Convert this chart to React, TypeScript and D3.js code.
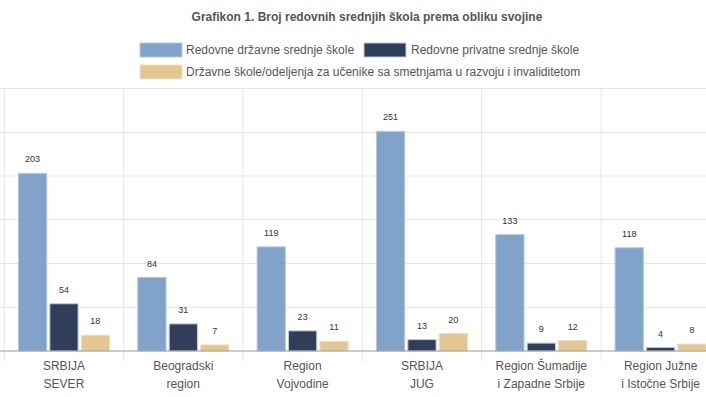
import { scaleBand, scaleLinear } from 'd3';
import React from 'react';

const categories = [
  ['SRBIJA', 'SEVER'],
  ['Beogradski', 'region'],
  ['Region', 'Vojvodine'],
  ['SRBIJA', 'JUG'],
  ['Region Šumadije', 'i Zapadne Srbije'],
  ['Region Južne', 'i Istočne Srbije'],
];
const seriesNames = [
  'Redovne državne srednje škole',
  'Redovne privatne srednje škole',
  'Državne škole/odeljenja za učenike sa smetnjama u razvoju i invaliditetom',
];
const drzavne = [203, 84, 119, 251, 133, 118];
const privatne = [54, 31, 23, 13, 9, 4];
const posebne = [18, 7, 11, 20, 12, 8];
const yTicks = [0, 50, 100, 150, 200, 250, 300];

const colors = ['#82a3c9', '#2f3f5a', '#e2c792'];
const strokes = ['#b3c8e0', '#c3cad5', '#f0e0c0'];

const W = 706;
const H = 397;

const App = () => {
  const series = [drzavne, privatne, posebne];
  const x = scaleBand<number>()
    .domain(categories.map((_, i) => i))
    .range([4.3, 720.3])
    .padding(0);
  const inner = scaleBand<number>()
    .domain([0, 1, 2])
    .range([0, x.bandwidth()])
    .paddingInner(0.1)
    .paddingOuter(0.45);
  const y = scaleLinear().domain([0, 300]).range([351, 88.5]);
  const bounds = categories.map((_, i) => x(i)!).concat([x(5)! + x.bandwidth()]);

  return (
    <svg
      width={W}
      height={H}
      style={{ position: 'absolute', left: 0, top: 0, display: 'block' }}
      fontFamily="'Liberation Sans', Arial, sans-serif"
    >
      <rect width={W} height={H} fill="#fff" />
      <text x={367} y={21} textAnchor="middle" fontSize={12} fontWeight="bold" fill="#555">
        Grafikon 1. Broj redovnih srednjih škola prema obliku svojine
      </text>

      {/* legenda */}
      <g fontSize={12} fill="#555">
        <rect x={140} y={43} width={42} height={14} fill={colors[0]} stroke={strokes[0]} />
        <text x={186} y={54}>{seriesNames[0]}</text>
        <rect x={364} y={43} width={42} height={14} fill={colors[1]} stroke={strokes[1]} />
        <text x={411} y={54}>{seriesNames[1]}</text>
        <rect x={140} y={65} width={42} height={14} fill={colors[2]} stroke={strokes[2]} />
        <text x={186} y={76}>{seriesNames[2]}</text>
      </g>

      {/* mreza */}
      {yTicks.slice(1).map((t) => (
        <line key={t} x1={0} x2={W} y1={y(t)} y2={y(t)} stroke="#e6e6e6" />
      ))}
      {bounds.map((b, i) => (
        <line key={i} x1={b} x2={b} y1={y(300)} y2={361} stroke="#e6e6e6" />
      ))}

      {/* stubici */}
      {categories.map((_, ci) => (
        <g key={ci} transform={`translate(${x(ci)},0)`}>
          {series.map((s, si) => (
            <g key={si}>
              <rect
                x={inner(si)}
                y={y(s[ci])}
                width={inner.bandwidth()}
                height={y(0) - y(s[ci])}
                fill={colors[si]}
                stroke={strokes[si]}
                strokeWidth={1}
              />
              <text
                x={inner(si)! + inner.bandwidth() / 2}
                y={y(s[ci]) - 11}
                textAnchor="middle"
                fontSize={9}
                fill="#333"
              >
                {s[ci]}
              </text>
            </g>
          ))}
        </g>
      ))}

      <line x1={0} x2={W} y1={y(0)} y2={y(0)} stroke="#999" />

      {/* kategorije */}
      {categories.map((c, ci) => (
        <text
          key={ci}
          x={x(ci)! + x.bandwidth() / 2}
          textAnchor="middle"
          fontSize={12}
          fill="#555"
        >
          <tspan x={x(ci)! + x.bandwidth() / 2} y={370}>{c[0]}</tspan>
          <tspan x={x(ci)! + x.bandwidth() / 2} y={388}>{c[1]}</tspan>
        </text>
      ))}
    </svg>
  );
};

export default App;
